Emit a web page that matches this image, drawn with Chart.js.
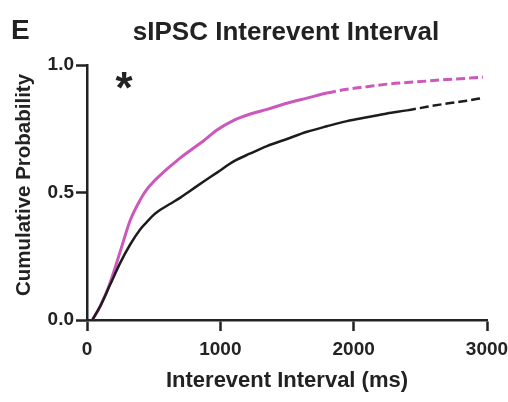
<!DOCTYPE html>
<html lang="en">
<head>
  <meta charset="UTF-8" />
  <title>sIPSC Interevent Interval</title>
  <script src="https://cdn.jsdelivr.net/npm/chart.js"></script>
  <style>
    html, body { margin: 0; padding: 0; background: #fff; }
    #wrap { width: 508px; height: 402px; position: relative; }
  </style>
</head>
<body>
  <div id="wrap"><canvas id="cdf"></canvas></div>

  <script>
    // interevent interval (ms) sample points
    const intervalMs = [40, 100, 175, 250, 325, 400, 450, 500, 550, 625, 700, 775, 875, 975,
      1100, 1225, 1350, 1500, 1650, 1800, 1950, 2100, 2250, 2400, 2550, 2700, 2850, 2970];
    // cumulative probability, black trace
    const controlProb = [0, 0.055, 0.14, 0.225, 0.297, 0.356, 0.385, 0.412, 0.432, 0.456, 0.48, 0.507, 0.543, 0.578,
      0.622, 0.653, 0.682, 0.71, 0.738, 0.76, 0.78, 0.795, 0.81, 0.822, 0.836, 0.849, 0.86, 0.871];
    // cumulative probability, magenta trace
    const treatedProb = [0, 0.055, 0.148, 0.27, 0.392, 0.472, 0.513, 0.543, 0.568, 0.603, 0.636, 0.665, 0.703, 0.745,
      0.783, 0.808, 0.826, 0.85, 0.87, 0.89, 0.905, 0.915, 0.925, 0.931, 0.937, 0.943, 0.948, 0.952];
    const xTicks = [0, 1000, 2000, 3000];
    const yTicks = [0, 0.5, 1.0];

    const FONT = 'Liberation Sans, Arial, Helvetica, sans-serif';
    const INK = '#222';

    const pts = (ys) => ys.map((y, i) => ({ x: intervalMs[i], y: y }));

    // sparse tail of each curve looks dashed in the figure
    const dashAfter = (limit) => ctx => ctx.p0.parsed.x >= limit ? [9, 4] : undefined;

    const labels = {
      id: 'labels',
      afterDraw(chart) {
        const c = chart.ctx;
        c.save();
        c.fillStyle = INK;
        c.textBaseline = 'alphabetic';
        c.textAlign = 'left';
        c.font = 'bold 28px ' + FONT;
        c.fillText('E', 11, 39);
        c.textAlign = 'center';
        c.font = 'bold 26px ' + FONT;
        c.fillText('sIPSC Interevent Interval', 286, 40);
        c.font = 'bold 44px ' + FONT;
        c.fillText('*', 124, 103);
        // y axis title
        c.translate(24, 185);
        c.rotate(-Math.PI / 2);
        c.textBaseline = 'middle';
        c.font = 'bold 20.5px ' + FONT;
        c.fillText('Cumulative Probability', 0, 0);
        c.restore();
      }
    };

    new Chart(document.getElementById('cdf'), {
      type: 'line',
      data: {
        datasets: [
          {
            label: 'control',
            data: pts(controlProb),
            borderColor: '#1c1c1c',
            borderWidth: 2.5,
            pointRadius: 0,
            cubicInterpolationMode: 'monotone',
            segment: { borderDash: dashAfter(2400) }
          },
          {
            label: 'treated',
            data: pts(treatedProb),
            borderColor: '#cc58bc',
            borderWidth: 3,
            pointRadius: 0,
            cubicInterpolationMode: 'monotone',
            segment: { borderDash: dashAfter(1800) }
          }
        ]
      },
      options: {
        responsive: true,
        maintainAspectRatio: false,
        animation: false,
        layout: { padding: { top: 65, right: 0, bottom: 0, left: 0 } },
        plugins: {
          legend: { display: false },
          tooltip: { enabled: false }
        },
        scales: {
          x: {
            type: 'linear',
            min: 0,
            max: 3000,
            afterBuildTicks: s => { s.ticks = xTicks.map(v => ({ value: v })); },
            afterFit: s => { s.height = 82; s.paddingRight = 21; },
            ticks: {
              color: INK,
              font: { family: FONT, size: 19, weight: 'bold' },
              padding: 7,
              maxRotation: 0,
              callback: v => String(v)
            },
            grid: { drawOnChartArea: false, drawTicks: true, tickLength: 11, tickWidth: 2.5, tickColor: INK },
            border: { display: true, color: INK, width: 2.5 },
            title: {
              display: true,
              text: 'Interevent Interval (ms)',
              color: INK,
              font: { family: FONT, size: 22, weight: 'bold' },
              padding: { top: 0, bottom: 8 }
            }
          },
          y: {
            type: 'linear',
            min: 0,
            max: 1,
            afterBuildTicks: s => { s.ticks = yTicks.map(v => ({ value: v })); },
            afterFit: s => { s.width = 87; },
            ticks: {
              color: INK,
              font: { family: FONT, size: 19, weight: 'bold' },
              padding: 2,
              callback: v => v.toFixed(1)
            },
            grid: { drawOnChartArea: false, drawTicks: true, tickLength: 11, tickWidth: 2.5, tickColor: INK },
            border: { display: true, color: INK, width: 2.5 }
          }
        }
      },
      plugins: [labels]
    });
  </script>
</body>
</html>
